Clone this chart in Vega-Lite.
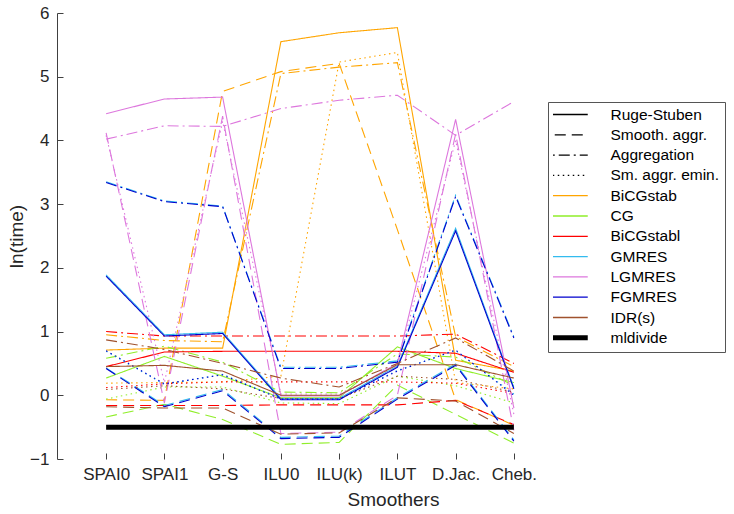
{
  "$schema": "https://vega.github.io/schema/vega-lite/v6.json",
  "width": 677,
  "height": 446,
  "autosize": {"type": "none"},
  "padding": {"left": 57, "top": 13, "right": 0, "bottom": 55},
  "config": {
    "view": {"stroke": null},
    "font": "Liberation Sans",
    "axis": {
      "grid": false,
      "domainColor": "#404040",
      "tickColor": "#404040",
      "labelColor": "#262626",
      "titleColor": "#262626",
      "labelFont": "Liberation Sans",
      "titleFont": "Liberation Sans",
      "labelFontSize": 17,
      "titleFontSize": 19,
      "titleFontWeight": "normal",
      "tickSize": -6
    }
  },
  "datasets": {
    "runs": [
      {"solver":"BiCGstab","amg":"Ruge-Stuben","smoother":"SPAI0","lnt":0.71},
      {"solver":"BiCGstab","amg":"Ruge-Stuben","smoother":"SPAI1","lnt":0.74},
      {"solver":"BiCGstab","amg":"Ruge-Stuben","smoother":"G-S","lnt":0.74},
      {"solver":"BiCGstab","amg":"Ruge-Stuben","smoother":"ILU0","lnt":5.55},
      {"solver":"BiCGstab","amg":"Ruge-Stuben","smoother":"ILU(k)","lnt":5.69},
      {"solver":"BiCGstab","amg":"Ruge-Stuben","smoother":"ILUT","lnt":5.77},
      {"solver":"BiCGstab","amg":"Ruge-Stuben","smoother":"D.Jac.","lnt":0.55},
      {"solver":"BiCGstab","amg":"Ruge-Stuben","smoother":"Cheb.","lnt":0.38},
      {"solver":"BiCGstab","amg":"Smooth. aggr.","smoother":"SPAI0","lnt":-0.07},
      {"solver":"BiCGstab","amg":"Smooth. aggr.","smoother":"SPAI1","lnt":-0.08},
      {"solver":"BiCGstab","amg":"Smooth. aggr.","smoother":"G-S","lnt":4.77},
      {"solver":"BiCGstab","amg":"Smooth. aggr.","smoother":"ILU0","lnt":5.08},
      {"solver":"BiCGstab","amg":"Smooth. aggr.","smoother":"ILU(k)","lnt":5.21},
      {"solver":"BiCGstab","amg":"Smooth. aggr.","smoother":"ILUT","lnt":2.6},
      {"solver":"BiCGstab","amg":"Smooth. aggr.","smoother":"D.Jac.","lnt":-0.07},
      {"solver":"BiCGstab","amg":"Smooth. aggr.","smoother":"Cheb.","lnt":-0.47},
      {"solver":"BiCGstab","amg":"Aggregation","smoother":"SPAI0","lnt":0.95},
      {"solver":"BiCGstab","amg":"Aggregation","smoother":"SPAI1","lnt":0.86},
      {"solver":"BiCGstab","amg":"Aggregation","smoother":"G-S","lnt":0.84},
      {"solver":"BiCGstab","amg":"Aggregation","smoother":"ILU0","lnt":5.05},
      {"solver":"BiCGstab","amg":"Aggregation","smoother":"ILU(k)","lnt":5.15},
      {"solver":"BiCGstab","amg":"Aggregation","smoother":"ILUT","lnt":5.22},
      {"solver":"BiCGstab","amg":"Aggregation","smoother":"D.Jac.","lnt":0.92},
      {"solver":"BiCGstab","amg":"Aggregation","smoother":"Cheb.","lnt":0.45},
      {"solver":"BiCGstab","amg":"Sm. aggr. emin.","smoother":"SPAI0","lnt":0.19},
      {"solver":"BiCGstab","amg":"Sm. aggr. emin.","smoother":"SPAI1","lnt":0.2},
      {"solver":"BiCGstab","amg":"Sm. aggr. emin.","smoother":"G-S","lnt":0.21},
      {"solver":"BiCGstab","amg":"Sm. aggr. emin.","smoother":"ILU0","lnt":0.3},
      {"solver":"BiCGstab","amg":"Sm. aggr. emin.","smoother":"ILU(k)","lnt":5.23},
      {"solver":"BiCGstab","amg":"Sm. aggr. emin.","smoother":"ILUT","lnt":5.38},
      {"solver":"BiCGstab","amg":"Sm. aggr. emin.","smoother":"D.Jac.","lnt":0.2},
      {"solver":"BiCGstab","amg":"Sm. aggr. emin.","smoother":"Cheb.","lnt":0.1},

      {"solver":"CG","amg":"Ruge-Stuben","smoother":"SPAI0","lnt":0.27},
      {"solver":"CG","amg":"Ruge-Stuben","smoother":"SPAI1","lnt":0.61},
      {"solver":"CG","amg":"Ruge-Stuben","smoother":"G-S","lnt":0.3},
      {"solver":"CG","amg":"Ruge-Stuben","smoother":"ILU0","lnt":-0.04},
      {"solver":"CG","amg":"Ruge-Stuben","smoother":"ILU(k)","lnt":-0.04},
      {"solver":"CG","amg":"Ruge-Stuben","smoother":"ILUT","lnt":0.76},
      {"solver":"CG","amg":"Ruge-Stuben","smoother":"D.Jac.","lnt":0.42},
      {"solver":"CG","amg":"Ruge-Stuben","smoother":"Cheb.","lnt":0.2},
      {"solver":"CG","amg":"Smooth. aggr.","smoother":"SPAI0","lnt":-0.34},
      {"solver":"CG","amg":"Smooth. aggr.","smoother":"SPAI1","lnt":-0.14},
      {"solver":"CG","amg":"Smooth. aggr.","smoother":"G-S","lnt":-0.38},
      {"solver":"CG","amg":"Smooth. aggr.","smoother":"ILU0","lnt":-0.77},
      {"solver":"CG","amg":"Smooth. aggr.","smoother":"ILU(k)","lnt":-0.74},
      {"solver":"CG","amg":"Smooth. aggr.","smoother":"ILUT","lnt":0.16},
      {"solver":"CG","amg":"Smooth. aggr.","smoother":"D.Jac.","lnt":-0.3},
      {"solver":"CG","amg":"Smooth. aggr.","smoother":"Cheb.","lnt":-0.75},
      {"solver":"CG","amg":"Aggregation","smoother":"SPAI0","lnt":0.58},
      {"solver":"CG","amg":"Aggregation","smoother":"SPAI1","lnt":0.77},
      {"solver":"CG","amg":"Aggregation","smoother":"G-S","lnt":0.52},
      {"solver":"CG","amg":"Aggregation","smoother":"ILU0","lnt":0.05},
      {"solver":"CG","amg":"Aggregation","smoother":"ILU(k)","lnt":0.04},
      {"solver":"CG","amg":"Aggregation","smoother":"ILUT","lnt":0.65},
      {"solver":"CG","amg":"Aggregation","smoother":"D.Jac.","lnt":0.6},
      {"solver":"CG","amg":"Aggregation","smoother":"Cheb.","lnt":0.15},
      {"solver":"CG","amg":"Sm. aggr. emin.","smoother":"SPAI0","lnt":-0.06},
      {"solver":"CG","amg":"Sm. aggr. emin.","smoother":"SPAI1","lnt":0.13},
      {"solver":"CG","amg":"Sm. aggr. emin.","smoother":"G-S","lnt":0.13},
      {"solver":"CG","amg":"Sm. aggr. emin.","smoother":"ILU0","lnt":-0.12},
      {"solver":"CG","amg":"Sm. aggr. emin.","smoother":"ILU(k)","lnt":-0.13},
      {"solver":"CG","amg":"Sm. aggr. emin.","smoother":"ILUT","lnt":0.3},
      {"solver":"CG","amg":"Sm. aggr. emin.","smoother":"D.Jac.","lnt":0.15},
      {"solver":"CG","amg":"Sm. aggr. emin.","smoother":"Cheb.","lnt":-0.12},

      {"solver":"BiCGstabl","amg":"Ruge-Stuben","smoother":"SPAI0","lnt":0.45},
      {"solver":"BiCGstabl","amg":"Ruge-Stuben","smoother":"SPAI1","lnt":0.68},
      {"solver":"BiCGstabl","amg":"Ruge-Stuben","smoother":"G-S","lnt":0.69},
      {"solver":"BiCGstabl","amg":"Ruge-Stuben","smoother":"ILU0","lnt":0.69},
      {"solver":"BiCGstabl","amg":"Ruge-Stuben","smoother":"ILU(k)","lnt":0.69},
      {"solver":"BiCGstabl","amg":"Ruge-Stuben","smoother":"ILUT","lnt":0.69},
      {"solver":"BiCGstabl","amg":"Ruge-Stuben","smoother":"D.Jac.","lnt":0.66},
      {"solver":"BiCGstabl","amg":"Ruge-Stuben","smoother":"Cheb.","lnt":0.36},
      {"solver":"BiCGstabl","amg":"Smooth. aggr.","smoother":"SPAI0","lnt":-0.16},
      {"solver":"BiCGstabl","amg":"Smooth. aggr.","smoother":"SPAI1","lnt":-0.16},
      {"solver":"BiCGstabl","amg":"Smooth. aggr.","smoother":"G-S","lnt":-0.16},
      {"solver":"BiCGstabl","amg":"Smooth. aggr.","smoother":"ILU0","lnt":-0.15},
      {"solver":"BiCGstabl","amg":"Smooth. aggr.","smoother":"ILU(k)","lnt":-0.15},
      {"solver":"BiCGstabl","amg":"Smooth. aggr.","smoother":"ILUT","lnt":-0.15},
      {"solver":"BiCGstabl","amg":"Smooth. aggr.","smoother":"D.Jac.","lnt":-0.08},
      {"solver":"BiCGstabl","amg":"Smooth. aggr.","smoother":"Cheb.","lnt":-0.46},
      {"solver":"BiCGstabl","amg":"Aggregation","smoother":"SPAI0","lnt":1.0},
      {"solver":"BiCGstabl","amg":"Aggregation","smoother":"SPAI1","lnt":0.93},
      {"solver":"BiCGstabl","amg":"Aggregation","smoother":"G-S","lnt":0.93},
      {"solver":"BiCGstabl","amg":"Aggregation","smoother":"ILU0","lnt":0.93},
      {"solver":"BiCGstabl","amg":"Aggregation","smoother":"ILU(k)","lnt":0.93},
      {"solver":"BiCGstabl","amg":"Aggregation","smoother":"ILUT","lnt":0.93},
      {"solver":"BiCGstabl","amg":"Aggregation","smoother":"D.Jac.","lnt":0.96},
      {"solver":"BiCGstabl","amg":"Aggregation","smoother":"Cheb.","lnt":0.5},
      {"solver":"BiCGstabl","amg":"Sm. aggr. emin.","smoother":"SPAI0","lnt":0.12},
      {"solver":"BiCGstabl","amg":"Sm. aggr. emin.","smoother":"SPAI1","lnt":0.18},
      {"solver":"BiCGstabl","amg":"Sm. aggr. emin.","smoother":"G-S","lnt":0.21},
      {"solver":"BiCGstabl","amg":"Sm. aggr. emin.","smoother":"ILU0","lnt":0.21},
      {"solver":"BiCGstabl","amg":"Sm. aggr. emin.","smoother":"ILU(k)","lnt":0.21},
      {"solver":"BiCGstabl","amg":"Sm. aggr. emin.","smoother":"ILUT","lnt":0.21},
      {"solver":"BiCGstabl","amg":"Sm. aggr. emin.","smoother":"D.Jac.","lnt":0.19},
      {"solver":"BiCGstabl","amg":"Sm. aggr. emin.","smoother":"Cheb.","lnt":0.03},

      {"solver":"GMRES","amg":"Ruge-Stuben","smoother":"SPAI0","lnt":1.89},
      {"solver":"GMRES","amg":"Ruge-Stuben","smoother":"SPAI1","lnt":0.95},
      {"solver":"GMRES","amg":"Ruge-Stuben","smoother":"G-S","lnt":0.99},
      {"solver":"GMRES","amg":"Ruge-Stuben","smoother":"ILU0","lnt":-0.05},
      {"solver":"GMRES","amg":"Ruge-Stuben","smoother":"ILU(k)","lnt":-0.05},
      {"solver":"GMRES","amg":"Ruge-Stuben","smoother":"ILUT","lnt":0.46},
      {"solver":"GMRES","amg":"Ruge-Stuben","smoother":"D.Jac.","lnt":2.62},
      {"solver":"GMRES","amg":"Ruge-Stuben","smoother":"Cheb.","lnt":0.12},
      {"solver":"GMRES","amg":"Smooth. aggr.","smoother":"SPAI0","lnt":0.43},
      {"solver":"GMRES","amg":"Smooth. aggr.","smoother":"SPAI1","lnt":-0.16},
      {"solver":"GMRES","amg":"Smooth. aggr.","smoother":"G-S","lnt":0.09},
      {"solver":"GMRES","amg":"Smooth. aggr.","smoother":"ILU0","lnt":-0.66},
      {"solver":"GMRES","amg":"Smooth. aggr.","smoother":"ILU(k)","lnt":-0.64},
      {"solver":"GMRES","amg":"Smooth. aggr.","smoother":"ILUT","lnt":-0.04},
      {"solver":"GMRES","amg":"Smooth. aggr.","smoother":"D.Jac.","lnt":0.49},
      {"solver":"GMRES","amg":"Smooth. aggr.","smoother":"Cheb.","lnt":-0.7},
      {"solver":"GMRES","amg":"Aggregation","smoother":"SPAI0","lnt":3.35},
      {"solver":"GMRES","amg":"Aggregation","smoother":"SPAI1","lnt":3.05},
      {"solver":"GMRES","amg":"Aggregation","smoother":"G-S","lnt":2.97},
      {"solver":"GMRES","amg":"Aggregation","smoother":"ILU0","lnt":0.44},
      {"solver":"GMRES","amg":"Aggregation","smoother":"ILU(k)","lnt":0.44},
      {"solver":"GMRES","amg":"Aggregation","smoother":"ILUT","lnt":0.54},
      {"solver":"GMRES","amg":"Aggregation","smoother":"D.Jac.","lnt":3.14},
      {"solver":"GMRES","amg":"Aggregation","smoother":"Cheb.","lnt":0.92},
      {"solver":"GMRES","amg":"Sm. aggr. emin.","smoother":"SPAI0","lnt":0.69},
      {"solver":"GMRES","amg":"Sm. aggr. emin.","smoother":"SPAI1","lnt":0.17},
      {"solver":"GMRES","amg":"Sm. aggr. emin.","smoother":"G-S","lnt":0.33},
      {"solver":"GMRES","amg":"Sm. aggr. emin.","smoother":"ILU0","lnt":-0.05},
      {"solver":"GMRES","amg":"Sm. aggr. emin.","smoother":"ILU(k)","lnt":-0.05},
      {"solver":"GMRES","amg":"Sm. aggr. emin.","smoother":"ILUT","lnt":0.39},
      {"solver":"GMRES","amg":"Sm. aggr. emin.","smoother":"D.Jac.","lnt":0.7},
      {"solver":"GMRES","amg":"Sm. aggr. emin.","smoother":"Cheb.","lnt":0.02},

      {"solver":"LGMRES","amg":"Ruge-Stuben","smoother":"SPAI0","lnt":4.42},
      {"solver":"LGMRES","amg":"Ruge-Stuben","smoother":"SPAI1","lnt":4.65},
      {"solver":"LGMRES","amg":"Ruge-Stuben","smoother":"G-S","lnt":4.68},
      {"solver":"LGMRES","amg":"Ruge-Stuben","smoother":"ILU0","lnt":-0.01},
      {"solver":"LGMRES","amg":"Ruge-Stuben","smoother":"ILU(k)","lnt":-0.01},
      {"solver":"LGMRES","amg":"Ruge-Stuben","smoother":"ILUT","lnt":0.5},
      {"solver":"LGMRES","amg":"Ruge-Stuben","smoother":"D.Jac.","lnt":4.33},
      {"solver":"LGMRES","amg":"Ruge-Stuben","smoother":"Cheb.","lnt":-0.2},
      {"solver":"LGMRES","amg":"Smooth. aggr.","smoother":"SPAI0","lnt":4.12},
      {"solver":"LGMRES","amg":"Smooth. aggr.","smoother":"SPAI1","lnt":-0.12},
      {"solver":"LGMRES","amg":"Smooth. aggr.","smoother":"G-S","lnt":4.38},
      {"solver":"LGMRES","amg":"Smooth. aggr.","smoother":"ILU0","lnt":-0.6},
      {"solver":"LGMRES","amg":"Smooth. aggr.","smoother":"ILU(k)","lnt":-0.58},
      {"solver":"LGMRES","amg":"Smooth. aggr.","smoother":"ILUT","lnt":0.0},
      {"solver":"LGMRES","amg":"Smooth. aggr.","smoother":"D.Jac.","lnt":4.1},
      {"solver":"LGMRES","amg":"Smooth. aggr.","smoother":"Cheb.","lnt":-0.55},
      {"solver":"LGMRES","amg":"Aggregation","smoother":"SPAI0","lnt":4.02},
      {"solver":"LGMRES","amg":"Aggregation","smoother":"SPAI1","lnt":4.23},
      {"solver":"LGMRES","amg":"Aggregation","smoother":"G-S","lnt":4.22},
      {"solver":"LGMRES","amg":"Aggregation","smoother":"ILU0","lnt":4.5},
      {"solver":"LGMRES","amg":"Aggregation","smoother":"ILU(k)","lnt":4.63},
      {"solver":"LGMRES","amg":"Aggregation","smoother":"ILUT","lnt":4.71},
      {"solver":"LGMRES","amg":"Aggregation","smoother":"D.Jac.","lnt":4.08},
      {"solver":"LGMRES","amg":"Aggregation","smoother":"Cheb.","lnt":4.61},
      {"solver":"LGMRES","amg":"Sm. aggr. emin.","smoother":"SPAI0","lnt":4.08},
      {"solver":"LGMRES","amg":"Sm. aggr. emin.","smoother":"SPAI1","lnt":0.2},
      {"solver":"LGMRES","amg":"Sm. aggr. emin.","smoother":"G-S","lnt":4.3},
      {"solver":"LGMRES","amg":"Sm. aggr. emin.","smoother":"ILU0","lnt":0.02},
      {"solver":"LGMRES","amg":"Sm. aggr. emin.","smoother":"ILU(k)","lnt":0.02},
      {"solver":"LGMRES","amg":"Sm. aggr. emin.","smoother":"ILUT","lnt":0.45},
      {"solver":"LGMRES","amg":"Sm. aggr. emin.","smoother":"D.Jac.","lnt":4.0},
      {"solver":"LGMRES","amg":"Sm. aggr. emin.","smoother":"Cheb.","lnt":-0.3},

      {"solver":"FGMRES","amg":"Ruge-Stuben","smoother":"SPAI0","lnt":1.87},
      {"solver":"FGMRES","amg":"Ruge-Stuben","smoother":"SPAI1","lnt":0.93},
      {"solver":"FGMRES","amg":"Ruge-Stuben","smoother":"G-S","lnt":0.97},
      {"solver":"FGMRES","amg":"Ruge-Stuben","smoother":"ILU0","lnt":-0.07},
      {"solver":"FGMRES","amg":"Ruge-Stuben","smoother":"ILU(k)","lnt":-0.07},
      {"solver":"FGMRES","amg":"Ruge-Stuben","smoother":"ILUT","lnt":0.44},
      {"solver":"FGMRES","amg":"Ruge-Stuben","smoother":"D.Jac.","lnt":2.58},
      {"solver":"FGMRES","amg":"Ruge-Stuben","smoother":"Cheb.","lnt":0.1},
      {"solver":"FGMRES","amg":"Smooth. aggr.","smoother":"SPAI0","lnt":0.42},
      {"solver":"FGMRES","amg":"Smooth. aggr.","smoother":"SPAI1","lnt":-0.18},
      {"solver":"FGMRES","amg":"Smooth. aggr.","smoother":"G-S","lnt":0.07},
      {"solver":"FGMRES","amg":"Smooth. aggr.","smoother":"ILU0","lnt":-0.68},
      {"solver":"FGMRES","amg":"Smooth. aggr.","smoother":"ILU(k)","lnt":-0.66},
      {"solver":"FGMRES","amg":"Smooth. aggr.","smoother":"ILUT","lnt":-0.06},
      {"solver":"FGMRES","amg":"Smooth. aggr.","smoother":"D.Jac.","lnt":0.47},
      {"solver":"FGMRES","amg":"Smooth. aggr.","smoother":"Cheb.","lnt":-0.72},
      {"solver":"FGMRES","amg":"Aggregation","smoother":"SPAI0","lnt":3.34},
      {"solver":"FGMRES","amg":"Aggregation","smoother":"SPAI1","lnt":3.04},
      {"solver":"FGMRES","amg":"Aggregation","smoother":"G-S","lnt":2.96},
      {"solver":"FGMRES","amg":"Aggregation","smoother":"ILU0","lnt":0.42},
      {"solver":"FGMRES","amg":"Aggregation","smoother":"ILU(k)","lnt":0.42},
      {"solver":"FGMRES","amg":"Aggregation","smoother":"ILUT","lnt":0.52},
      {"solver":"FGMRES","amg":"Aggregation","smoother":"D.Jac.","lnt":3.12},
      {"solver":"FGMRES","amg":"Aggregation","smoother":"Cheb.","lnt":0.9},
      {"solver":"FGMRES","amg":"Sm. aggr. emin.","smoother":"SPAI0","lnt":0.7},
      {"solver":"FGMRES","amg":"Sm. aggr. emin.","smoother":"SPAI1","lnt":0.18},
      {"solver":"FGMRES","amg":"Sm. aggr. emin.","smoother":"G-S","lnt":0.32},
      {"solver":"FGMRES","amg":"Sm. aggr. emin.","smoother":"ILU0","lnt":-0.06},
      {"solver":"FGMRES","amg":"Sm. aggr. emin.","smoother":"ILU(k)","lnt":-0.06},
      {"solver":"FGMRES","amg":"Sm. aggr. emin.","smoother":"ILUT","lnt":0.38},
      {"solver":"FGMRES","amg":"Sm. aggr. emin.","smoother":"D.Jac.","lnt":0.71},
      {"solver":"FGMRES","amg":"Sm. aggr. emin.","smoother":"Cheb.","lnt":0.0},

      {"solver":"IDR(s)","amg":"Ruge-Stuben","smoother":"SPAI0","lnt":0.45},
      {"solver":"IDR(s)","amg":"Ruge-Stuben","smoother":"SPAI1","lnt":0.47},
      {"solver":"IDR(s)","amg":"Ruge-Stuben","smoother":"G-S","lnt":0.38},
      {"solver":"IDR(s)","amg":"Ruge-Stuben","smoother":"ILU0","lnt":0.0},
      {"solver":"IDR(s)","amg":"Ruge-Stuben","smoother":"ILU(k)","lnt":0.0},
      {"solver":"IDR(s)","amg":"Ruge-Stuben","smoother":"ILUT","lnt":0.48},
      {"solver":"IDR(s)","amg":"Ruge-Stuben","smoother":"D.Jac.","lnt":0.48},
      {"solver":"IDR(s)","amg":"Ruge-Stuben","smoother":"Cheb.","lnt":0.27},
      {"solver":"IDR(s)","amg":"Smooth. aggr.","smoother":"SPAI0","lnt":-0.18},
      {"solver":"IDR(s)","amg":"Smooth. aggr.","smoother":"SPAI1","lnt":-0.2},
      {"solver":"IDR(s)","amg":"Smooth. aggr.","smoother":"G-S","lnt":-0.2},
      {"solver":"IDR(s)","amg":"Smooth. aggr.","smoother":"ILU0","lnt":-0.61},
      {"solver":"IDR(s)","amg":"Smooth. aggr.","smoother":"ILU(k)","lnt":-0.59},
      {"solver":"IDR(s)","amg":"Smooth. aggr.","smoother":"ILUT","lnt":-0.04},
      {"solver":"IDR(s)","amg":"Smooth. aggr.","smoother":"D.Jac.","lnt":-0.09},
      {"solver":"IDR(s)","amg":"Smooth. aggr.","smoother":"Cheb.","lnt":-0.6},
      {"solver":"IDR(s)","amg":"Aggregation","smoother":"SPAI0","lnt":0.87},
      {"solver":"IDR(s)","amg":"Aggregation","smoother":"SPAI1","lnt":0.72},
      {"solver":"IDR(s)","amg":"Aggregation","smoother":"G-S","lnt":0.5},
      {"solver":"IDR(s)","amg":"Aggregation","smoother":"ILU0","lnt":0.27},
      {"solver":"IDR(s)","amg":"Aggregation","smoother":"ILU(k)","lnt":0.13},
      {"solver":"IDR(s)","amg":"Aggregation","smoother":"ILUT","lnt":0.5},
      {"solver":"IDR(s)","amg":"Aggregation","smoother":"D.Jac.","lnt":0.9},
      {"solver":"IDR(s)","amg":"Aggregation","smoother":"Cheb.","lnt":0.38},
      {"solver":"IDR(s)","amg":"Sm. aggr. emin.","smoother":"SPAI0","lnt":0.09},
      {"solver":"IDR(s)","amg":"Sm. aggr. emin.","smoother":"SPAI1","lnt":0.15},
      {"solver":"IDR(s)","amg":"Sm. aggr. emin.","smoother":"G-S","lnt":0.1},
      {"solver":"IDR(s)","amg":"Sm. aggr. emin.","smoother":"ILU0","lnt":-0.05},
      {"solver":"IDR(s)","amg":"Sm. aggr. emin.","smoother":"ILU(k)","lnt":-0.05},
      {"solver":"IDR(s)","amg":"Sm. aggr. emin.","smoother":"ILUT","lnt":0.3},
      {"solver":"IDR(s)","amg":"Sm. aggr. emin.","smoother":"D.Jac.","lnt":0.25},
      {"solver":"IDR(s)","amg":"Sm. aggr. emin.","smoother":"Cheb.","lnt":0.05}
    ],
    "direct": [
      {"solver":"mldivide","smoother":"SPAI0","lnt":-0.5},
      {"solver":"mldivide","smoother":"SPAI1","lnt":-0.5},
      {"solver":"mldivide","smoother":"G-S","lnt":-0.5},
      {"solver":"mldivide","smoother":"ILU0","lnt":-0.5},
      {"solver":"mldivide","smoother":"ILU(k)","lnt":-0.5},
      {"solver":"mldivide","smoother":"ILUT","lnt":-0.5},
      {"solver":"mldivide","smoother":"D.Jac.","lnt":-0.5},
      {"solver":"mldivide","smoother":"Cheb.","lnt":-0.5}
    ]
  },
  "encoding": {
    "x": {
      "field": "smoother",
      "type": "ordinal",
      "scale": {
        "type": "point",
        "domain": ["SPAI0","SPAI1","G-S","ILU0","ILU(k)","ILUT","D.Jac.","Cheb."],
        "range": [20, 486]
      },
      "axis": {
        "title": "Smoothers",
        "domain": false,
        "labelAngle": 0,
        "labelPadding": 13,
        "titlePadding": 8,
        "titleX": 336
      }
    },
    "y": {
      "field": "lnt",
      "type": "quantitative",
      "scale": {"domain": [-1, 6], "nice": false, "zero": false},
      "axis": {
        "title": "ln(time)",
        "values": [-1, 0, 1, 2, 3, 4, 5, 6],
        "labelPadding": 14,
        "titlePadding": 3
      }
    },
    "color": {
      "field": "solver",
      "type": "nominal",
      "scale": {
        "domain": ["Ruge-Stuben","Smooth. aggr.","Aggregation","Sm. aggr. emin.","BiCGstab","CG","BiCGstabl","GMRES","LGMRES","FGMRES","IDR(s)","mldivide"],
        "range": ["#000000","#000000","#000000","#000000","#FFA500","#90EE2A","#FF0000","#33BBEE","#DD77DD","#0000CD","#A0522D","#000000"]
      },
      "legend": {
        "title": null,
        "orient": "none",
        "legendX": 491,
        "legendY": 89,
        "symbolType": "stroke",
        "symbolSize": 2500,
        "symbolStrokeWidth": 1.3,
        "symbolOffset": 2,
        "clipHeight": 15,
        "rowPadding": 4.3,
        "padding": 5,
        "labelOffset": 40,
        "labelFont": "Liberation Sans",
        "labelFontSize": 15.5,
        "labelColor": "#000000",
        "strokeColor": "#555555",
        "fillColor": "#ffffff",
        "encode": {
          "symbols": {
            "update": {
              "strokeDash": {"signal": "datum.value === 'Smooth. aggr.' ? [11, 6] : datum.value === 'Aggregation' ? [11, 4, 2, 4] : datum.value === 'Sm. aggr. emin.' ? [1.5, 3.5] : [1, 0]"},
              "strokeWidth": {"signal": "datum.value === 'mldivide' ? 5 : 1.3"}
            }
          }
        }
      }
    }
  },
  "layer": [
    {
      "data": {"name": "runs"},
      "mark": {"type": "line", "strokeWidth": 1.1, "strokeCap": "butt"},
      "encoding": {
        "strokeDash": {
          "field": "amg",
          "type": "nominal",
          "scale": {
            "domain": ["Ruge-Stuben","Smooth. aggr.","Aggregation","Sm. aggr. emin."],
            "range": [[1, 0], [11, 6], [11, 4, 2, 4], [1.5, 3.5]]
          },
          "legend": null
        },
        "order": {"value": null}
      }
    },
    {
      "data": {"name": "direct"},
      "mark": {"type": "line", "strokeWidth": 5, "strokeCap": "butt"},
      "encoding": {"order": {"value": null}}
    },
    {
      "mark": {"type": "rule", "color": "#404040", "strokeWidth": 1},
      "encoding": {"y": {"datum": -1}, "x": null, "color": null}
    }
  ]
}
